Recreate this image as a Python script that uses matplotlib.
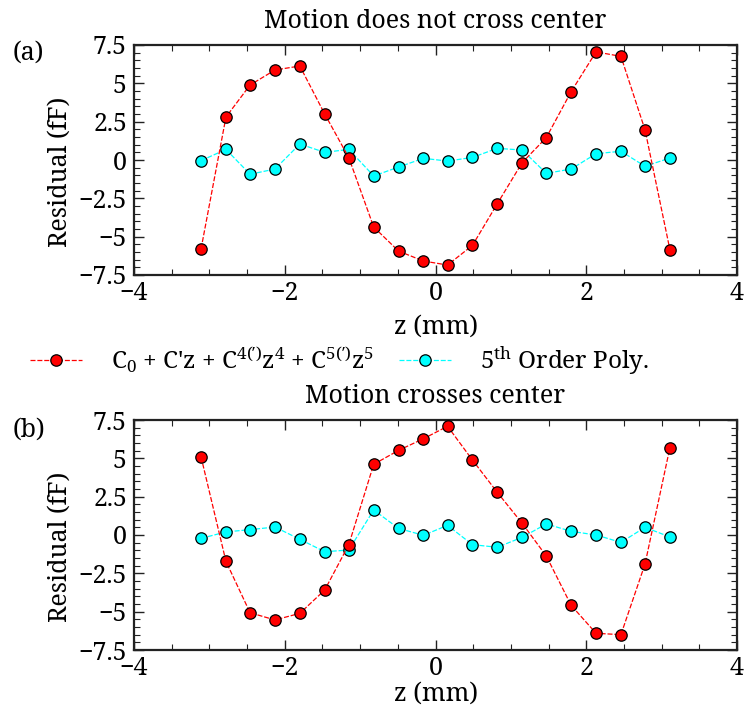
import matplotlib
matplotlib.use("Agg")
import matplotlib.pyplot as plt
from matplotlib.ticker import MultipleLocator, FixedLocator, FixedFormatter
from matplotlib.lines import Line2D

plt.rcParams['font.family'] = ['Noto Serif', 'DejaVu Serif']
plt.rcParams['mathtext.fontset'] = 'custom'
plt.rcParams['mathtext.rm'] = 'Noto Serif'
plt.rcParams['mathtext.it'] = 'Noto Serif:italic'
plt.rcParams['mathtext.fallback'] = 'stix'

z = [-3.11, -2.78, -2.46, -2.13, -1.80, -1.47, -1.15, -0.82, -0.49, -0.16,
     0.16, 0.49, 0.82, 1.15, 1.47, 1.80, 2.13, 2.46, 2.78, 3.11]

red_a = [-5.79, 2.80, 4.89, 5.87, 6.13, 3.00, 0.15, -4.37, -5.94, -6.59,
         -6.85, -5.57, -2.85, -0.17, 1.46, 4.46, 7.05, 6.76, 1.96, -5.85]
cyan_a = [-0.04, 0.69, -0.93, -0.59, 1.04, 0.50, 0.69, -1.04, -0.46, 0.11,
          -0.07, 0.17, 0.76, 0.65, -0.87, -0.59, 0.41, 0.57, -0.41, 0.13]

red_b = [5.09, -1.72, -5.07, -5.54, -5.11, -3.59, -0.63, 4.61, 5.52, 6.28,
         7.09, 4.89, 2.78, 0.76, -1.37, -4.59, -6.41, -6.50, -1.89, 5.70]
cyan_b = [-0.22, 0.20, 0.35, 0.52, -0.28, -1.09, -0.98, 1.63, 0.43, -0.02,
          0.63, -0.63, -0.80, -0.15, 0.72, 0.24, 0.00, -0.48, 0.50, -0.13]

titles = ["Motion does not cross center", "Motion crosses center"]
panel_labels = ["(a)", "(b)"]
ytick_vals = [-7.5, -5, -2.5, 0, 2.5, 5, 7.5]
ytick_labels = ["\u22127.5", "\u22125", "\u22122.5", "0", "2.5", "5", "7.5"]
xtick_vals = [-4, -2, 0, 2, 4]
xtick_labels = ["\u22124", "\u22122", "0", "2", "4"]
label_red = r"C$_0$ + C'z + C$^{4(\prime)}$z$^4$ + C$^{5(\prime)}$z$^5$"
label_cyan = r"5$^{\mathrm{th}}$ Order Poly."

W, H = 746, 708
fig = plt.figure(figsize=(W / 100, H / 100), dpi=100)

FS = 18
LFS = 17.5

def px_axes(left, top, right, bottom):
    return fig.add_axes([left / W, 1 - bottom / H, (right - left) / W, (bottom - top) / H])

axA = px_axes(134, 45, 737, 275)
axB = px_axes(134, 420, 737, 650)

red_style = dict(color='red', linestyle=(0, (4, 1.5)), linewidth=0.9, marker='o',
                 markersize=8.2, markerfacecolor='red', markeredgecolor='black',
                 markeredgewidth=0.9)
cyan_style = dict(color='cyan', linestyle=(0, (4, 1.5)), linewidth=0.9, marker='o',
                  markersize=8.2, markerfacecolor='cyan', markeredgecolor='black',
                  markeredgewidth=0.9)

for ax, r, c, t, lp in [(axA, red_a, cyan_a, titles[0], 6.5),
                        (axB, red_b, cyan_b, titles[1], 0.5)]:
    ax.plot(z, r, **red_style, zorder=3)
    ax.plot(z, c, **cyan_style, zorder=2)
    ax.set_xlim(-4, 4)
    ax.set_ylim(-7.5, 7.5)
    ax.xaxis.set_major_locator(FixedLocator(xtick_vals))
    ax.xaxis.set_major_formatter(FixedFormatter(xtick_labels))
    ax.yaxis.set_major_locator(FixedLocator(ytick_vals))
    ax.yaxis.set_major_formatter(FixedFormatter(ytick_labels))
    ax.xaxis.set_minor_locator(MultipleLocator(0.5))
    ax.yaxis.set_minor_locator(MultipleLocator(0.5))
    ax.tick_params(which='both', direction='in', top=True, right=True, labelsize=FS,
                   color='#222222')
    ax.tick_params(which='major', length=7, width=1.0)
    ax.tick_params(axis='x', which='major', pad=4)
    ax.tick_params(axis='y', which='major', pad=5)
    ax.tick_params(which='minor', length=4, width=0.8)
    for s in ax.spines.values():
        s.set_linewidth(1.6)
        s.set_color('#222222')
    ax.set_xlabel("z (mm)", fontsize=FS, labelpad=lp)
    ax.set_ylabel("Residual (fF)", fontsize=FS)
    ax.yaxis.set_label_coords(-0.102, 0.45)
    ax.set_title(t, fontsize=FS, pad=12)

fig.text(13 / W, 1 - 53 / H, panel_labels[0], fontsize=FS, va='center', ha='left')
fig.text(13 / W, 1 - 430 / H, panel_labels[1], fontsize=FS, va='center', ha='left')

handles = [Line2D([], [], **red_style), Line2D([], [], **cyan_style)]
fig.legend(handles, [label_red, label_cyan], loc='center left',
           bbox_to_anchor=(30 / W, 1 - 361 / H), ncol=2, frameon=False,
           fontsize=LFS, handlelength=2.15, handletextpad=1.2, columnspacing=1.0,
           borderaxespad=0, borderpad=0)

fig.savefig("out.png", dpi=100)
